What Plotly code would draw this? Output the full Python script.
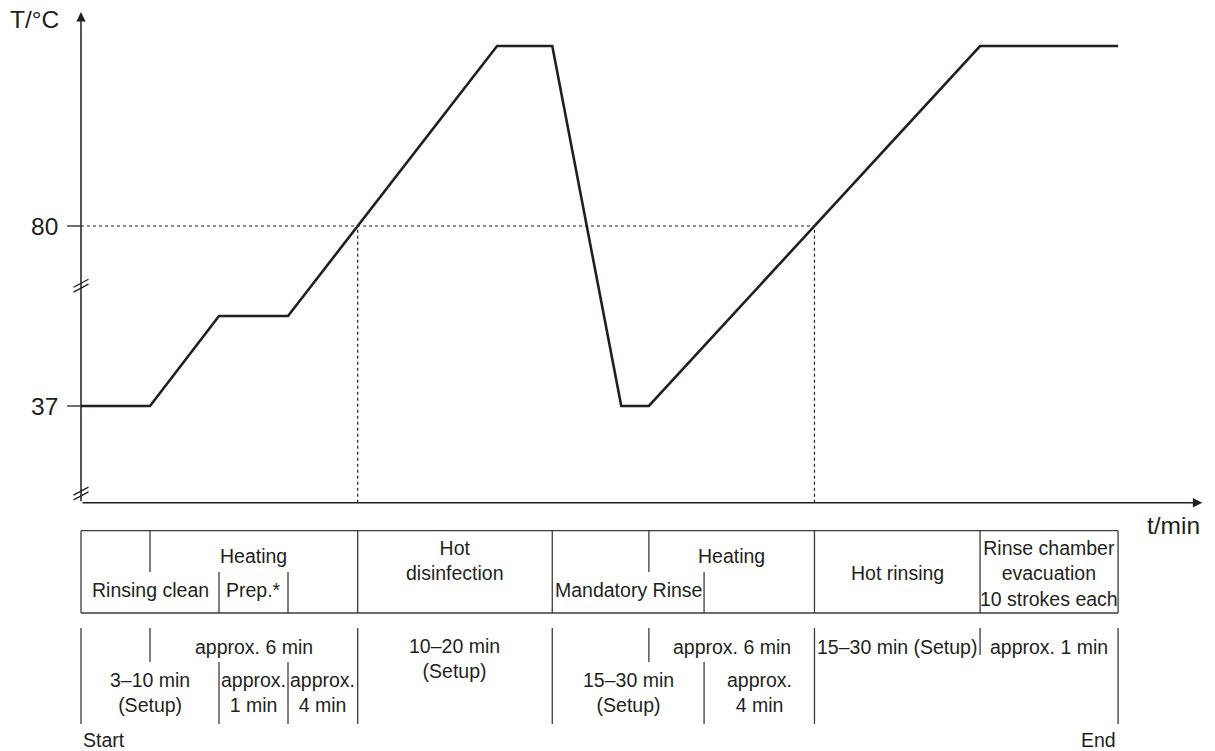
import numpy as np
import plotly.graph_objects as go

# ---- temperature profile (schematic time units, °C) ----
time_pts = [0, 1, 2, 3, 6.03, 6.83, 7.83, 8.23, 13.03, 15.03]
temp_pts = [37, 37, 58.5, 58.5, 123, 123, 37, 37, 123, 123]

ytick_vals = [37, 80]
ytick_text = ["37", "80"]
threshold = 80


def crossing(i0, i1):
    """Time at which the segment i0->i1 reaches the threshold temperature."""
    return float(np.interp(threshold, [temp_pts[i0], temp_pts[i1]],
                           [time_pts[i0], time_pts[i1]]))


t_disinf = crossing(3, 4)
t_hot_rinse = crossing(7, 8)

# phase boundaries along the time axis
edges = [0, 1, 2, 3, t_disinf, 6.83, 8.23, 9.03, t_hot_rinse, 13.03, 15.03]

# phase table: (text, left edge, right edge, row)
phase_labels = [
    ("Heating", 1, 4, "upper"),
    ("Rinsing clean", 0, 2, "lower"),
    ("Prep.*", 2, 3, "lower"),
    ("Hot<br>disinfection", 4, 5, "two"),
    ("Heating", 6, 8, "upper"),
    ("Mandatory Rinse", 5, 7, "lower"),
    ("Hot rinsing", 8, 9, "mid"),
    ("Rinse chamber<br>evacuation<br>10 strokes each", 9, 10, "mid"),
]

# duration table: (text, left edge, right edge, row)
duration_labels = [
    ("approx. 6 min", 1, 4, "upper"),
    ("3–10 min<br>(Setup)", 0, 2, "lower"),
    ("approx.<br>1 min", 2, 3, "lower"),
    ("approx.<br>4 min", 3, 4, "lower"),
    ("10–20 min<br>(Setup)", 4, 5, "two"),
    ("approx. 6 min", 6, 8, "upper"),
    ("15–30 min<br>(Setup)", 5, 7, "lower"),
    ("approx.<br>4 min", 7, 8, "lower"),
    ("15–30 min (Setup)", 8, 9, "upper"),
    ("approx. 1 min", 9, 10, "upper"),
]

# ---- page geometry ----
W, H = 1215, 751
X0_PX, PX_PER_T = 81, 69.0           # time axis origin and scale
Y37_PX, PX_PER_DEG = 406, 180 / 43   # temperature scale
BASE_T = 13.9                         # level of the time axis
TOP_T = 131.1                         # tip of the temperature axis
END_T = 16.25                         # tip of the time axis

x_range = [-X0_PX / PX_PER_T, (W - X0_PX) / PX_PER_T]
y_range = [37 - (H - Y37_PX) / PX_PER_DEG, 37 + Y37_PX / PX_PER_DEG]

INK = "#231f20"
GRID = "#3c3c3c"
FONT = "Liberation Sans, Arial, Helvetica, sans-serif"
TABLE_SIZE = 19.5


def py(p):
    """Vertical page position in paper units."""
    return 1 - p / H


fig = go.Figure()
fig.add_trace(go.Scatter(x=time_pts, y=temp_pts, mode="lines",
                         line=dict(color=INK, width=2.6),
                         hoverinfo="skip", showlegend=False))

shapes = []
annotations = []

# threshold guides at 80 °C
shapes.append(dict(type="line", xref="x", yref="y", x0=0, x1=t_hot_rinse,
                   y0=threshold, y1=threshold,
                   line=dict(color=INK, width=1.2, dash="dot")))
for tx in (t_disinf, t_hot_rinse):
    shapes.append(dict(type="line", xref="x", yref="y", x0=tx, x1=tx,
                       y0=BASE_T, y1=threshold,
                       line=dict(color=INK, width=1.2, dash="dot")))

# axis ticks and labels
for v, txt in zip(ytick_vals, ytick_text):
    shapes.append(dict(type="line", xref="x", yref="y", xsizemode="pixel",
                       xanchor=0, x0=-14, x1=0, y0=v, y1=v,
                       line=dict(color=INK, width=1.3)))
    annotations.append(dict(x=0, y=v, xref="x", yref="y", text=txt,
                            showarrow=False, xanchor="right", yanchor="middle",
                            xshift=-21, font=dict(size=24.5, color=INK, family=FONT)))

# axis break marks
for bt in (65.74, 16.1):
    for off in (-2.4, 2.4):
        shapes.append(dict(type="line", xref="x", yref="y",
                           xsizemode="pixel", ysizemode="pixel",
                           xanchor=0, yanchor=bt, x0=-7.5, x1=7.5,
                           y0=off - 4, y1=off + 4,
                           line=dict(color=INK, width=1.3)))

# axes with arrows
annotations.append(dict(x=0, y=TOP_T, xref="x", yref="y", text="",
                        showarrow=True, ax=0, ay=(TOP_T - BASE_T) * PX_PER_DEG,
                        arrowhead=2, arrowsize=1.25, arrowwidth=1.5,
                        arrowcolor=INK, standoff=0))
annotations.append(dict(x=END_T, y=BASE_T, xref="x", yref="y", text="",
                        showarrow=True, ax=-END_T * PX_PER_T, ay=0,
                        arrowhead=2, arrowsize=1.25, arrowwidth=1.5,
                        arrowcolor=INK, standoff=0))
annotations.append(dict(x=0, y=py(20), xref="x", yref="paper", text="T/°C",
                        showarrow=False, xanchor="right", yanchor="middle",
                        xshift=-20, font=dict(size=24.5, color=INK, family=FONT)))
annotations.append(dict(x=1202 / W, y=py(525), xref="paper", yref="paper",
                        text="t/min", showarrow=False, xanchor="right",
                        yanchor="middle", font=dict(size=24.5, color=INK, family=FONT)))


def vline(t, top, bottom):
    shapes.append(dict(type="line", xref="x", yref="paper", x0=t, x1=t,
                       y0=py(bottom), y1=py(top),
                       line=dict(color=GRID, width=1.3)))


# ---- phase table ----
T1_TOP, T1_MID, T1_BOT = 530.7, 572, 613
for t_y in (T1_TOP, T1_BOT):
    shapes.append(dict(type="line", xref="x", yref="paper", x0=edges[0],
                       x1=edges[10], y0=py(t_y), y1=py(t_y),
                       line=dict(color=GRID, width=1.3)))
for i in (0, 4, 5, 8, 9, 10):
    vline(edges[i], T1_TOP, T1_BOT)
for i in (1, 6):
    vline(edges[i], T1_TOP, T1_MID)
for i in (2, 3, 7):
    vline(edges[i], T1_MID, T1_BOT)

row_y1 = {"upper": 556, "lower": 589.5, "two": 560, "mid": 573}
for txt, a, b, row in phase_labels:
    annotations.append(dict(x=(edges[a] + edges[b]) / 2, y=py(row_y1[row]),
                            xref="x", yref="paper", text=txt, showarrow=False,
                            xanchor="center", yanchor="middle",
                            font=dict(size=TABLE_SIZE, color=INK, family=FONT)))

# ---- duration table ----
T2_TOP, T2_MID, T2_SHORT, T2_BOT = 628, 662, 655, 724
for i in (0, 4, 5, 8, 10):
    vline(edges[i], T2_TOP, T2_BOT)
for i in (1, 6):
    vline(edges[i], T2_TOP, T2_MID)
vline(edges[9], T2_TOP, T2_SHORT)
for i in (2, 3, 7):
    vline(edges[i], T2_MID, T2_BOT)

row_y2 = {"upper": 646.7, "lower": 692, "two": 658}
for txt, a, b, row in duration_labels:
    annotations.append(dict(x=(edges[a] + edges[b]) / 2, y=py(row_y2[row]),
                            xref="x", yref="paper", text=txt, showarrow=False,
                            xanchor="center", yanchor="middle",
                            font=dict(size=TABLE_SIZE, color=INK, family=FONT)))

annotations.append(dict(x=edges[0], y=py(740), xref="x", yref="paper",
                        text="Start", showarrow=False, xanchor="left",
                        yanchor="middle", font=dict(size=TABLE_SIZE, color=INK, family=FONT)))
annotations.append(dict(x=edges[10], y=py(740), xref="x", yref="paper",
                        text="End", showarrow=False, xanchor="right",
                        yanchor="middle", font=dict(size=TABLE_SIZE, color=INK, family=FONT)))

fig.update_layout(
    width=W, height=H, autosize=False,
    margin=dict(l=0, r=0, t=0, b=0, pad=0),
    paper_bgcolor="white", plot_bgcolor="white",
    xaxis=dict(range=x_range, visible=False, fixedrange=True),
    yaxis=dict(range=y_range, visible=False, fixedrange=True),
    shapes=shapes, annotations=annotations,
    showlegend=False,
)

fig.write_html("out.html", config={"displayModeBar": False})
